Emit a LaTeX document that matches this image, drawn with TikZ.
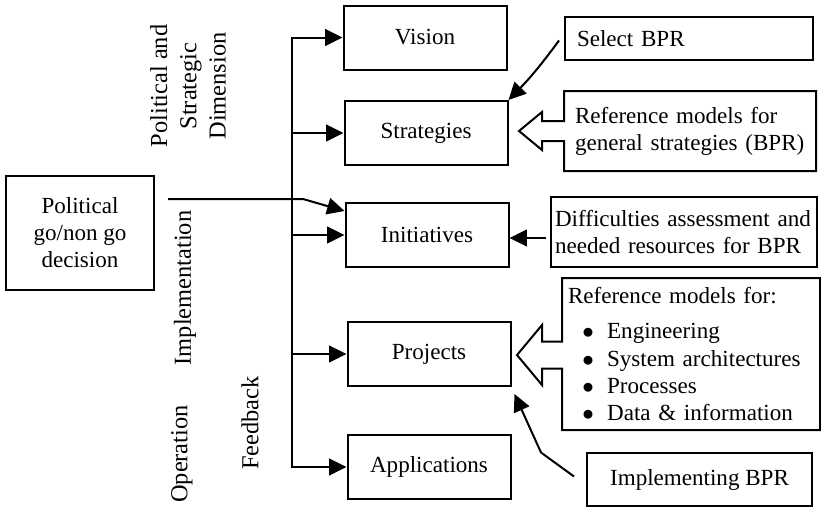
\documentclass[tikz,border=0pt]{standalone}
\usepackage{fontspec}
\setmainfont{Liberation Serif}
\usetikzlibrary{arrows.meta,calc}
\newcommand{\stagefont}{\fontsize{17.3}{20.3}\selectfont}
\newcommand{\dimfont}{\fontsize{18.3}{22}\selectfont}

\begin{document}
\begin{tikzpicture}[x=0.75pt,y=0.75pt,yscale=-1,xscale=1,
  stage/.style={draw,line width=1.5pt,minimum width=122.25pt,minimum height=48pt,inner sep=1pt,align=center,font=\stagefont},
  note/.style={draw,line width=1.5pt,align=left,inner ysep=1pt,font=\stagefont},
  wire/.style={line width=1.5pt},
  arr/.style={line width=1.5pt,-{Triangle[length=13pt,width=12.5pt]}},
  dim/.style={rotate=90,align=center,font=\dimfont}]
\useasboundingbox (0,0) rectangle (821,507);

%Shape: Rectangle
\node[stage] (vision) at (425,37.5) {Vision};
%Shape: Rectangle
\node[stage] (strategies) at (426,133) {Strategies};
%Shape: Rectangle
\node[stage] (initiatives) at (427,235) {Initiatives};
%Shape: Rectangle
\node[stage] (projects) at (429,354) {Projects};
%Shape: Rectangle
\node[stage] (applications) at (429,467) {Applications};

%Shape: Rectangle
\node[stage,minimum width=111pt,minimum height=85.5pt] (political) at (80,233) {Political\\go/non go\\decision};

%Shape: Rectangle
\node[note,text width=168pt,inner xsep=9pt,minimum height=32.25pt] (select) at (689,38.5) {Select BPR};
% Text Node
\node[note,draw=none,text width=172.5pt,inner xsep=7.5pt,minimum height=58.5pt] (stratref) at (690,131) {Reference models for\\general strategies (BPR)};
%Shape: Rectangle
\node[note,text width=193.5pt,inner xsep=3pt,minimum height=52.5pt] (diff) at (684,232) {Difficulties assessment and\\needed resources for BPR};
% Text Node
\node[note,draw=none,text width=184.5pt,inner xsep=3.75pt,minimum height=112.5pt] (projref) at (691,354) {Reference models for:\\[6pt]
\hspace*{10.7pt}$\bullet$\hspace{10pt}Engineering\\
\hspace*{10.7pt}$\bullet$\hspace{10pt}System architectures\\
\hspace*{10.7pt}$\bullet$\hspace{10pt}Processes\\
\hspace*{10.7pt}$\bullet$\hspace{10pt}Data \& information};
%Shape: Rectangle
\node[note,align=center,minimum width=168.75pt,minimum height=39.75pt] (impl) at (699.5,479.5) {Implementing BPR};

% Text Node
\node[dim] (strat) at (188,86) {Political and\\Strategic\\Dimension};
% Text Node
\node[dim] (implem) at (185,288) {Implementation};
% Text Node
\node[dim] (oper) at (182,454) {Operation};
% Text Node
\node[dim] (feed) at (250,423) {Feedback};

%Straight Lines
\coordinate (bustop) at (292,37);
\coordinate (busbot) at (292,468);
\draw[wire] (bustop) -- (busbot);
\draw[arr] (bustop |- vision.west) -- (vision.west);
\draw[arr] (bustop |- strategies.west) -- (strategies.west);
\draw[arr] (bustop |- initiatives.west) -- (initiatives.west);
\draw[arr] (bustop |- projects.west) -- (projects.west);
\draw[arr] (bustop |- applications.west) -- (applications.west);

%Straight Lines
\coordinate (polout) at (168,199);
\draw[arr] (polout) -- ++(135,0) -- ($(initiatives.north west)+(0,9)$);

%Straight Lines
\draw[arr] ($(select.west)+(-5,2)$) to[bend right=4] (strategies.north east);
\draw[arr] ($(diff.west)+(-4,6)$) -- ($(initiatives.east)+(0,3)$);
\draw[arr] ($(impl.west)+(-12,-3)$) -- ++(-33,-24) -- ($(projects.south east)+(3,7)$);

%Shape: Callout
\draw[wire] (stratref.north west) -- (stratref.north east) -- (stratref.south east) -- (stratref.south west) -- ($(stratref.west)+(0,10)$) -- ++(-22,0) -- ++(0,9) -- ++(-23,-19) -- ++(23,-19) -- ++(0,9) -- ++(22,0) -- cycle;
%Shape: Callout
\draw[wire] (projref.north west) -- (projref.north east) -- (projref.south east) -- (projref.south west) -- ($(projref.west)+(0,14.5)$) -- ++(-20,0) -- ++(0,16.5) -- ++(-25,-30) -- ++(25,-30) -- ++(0,16.5) -- ++(20,0) -- cycle;

\end{tikzpicture}
\end{document}
